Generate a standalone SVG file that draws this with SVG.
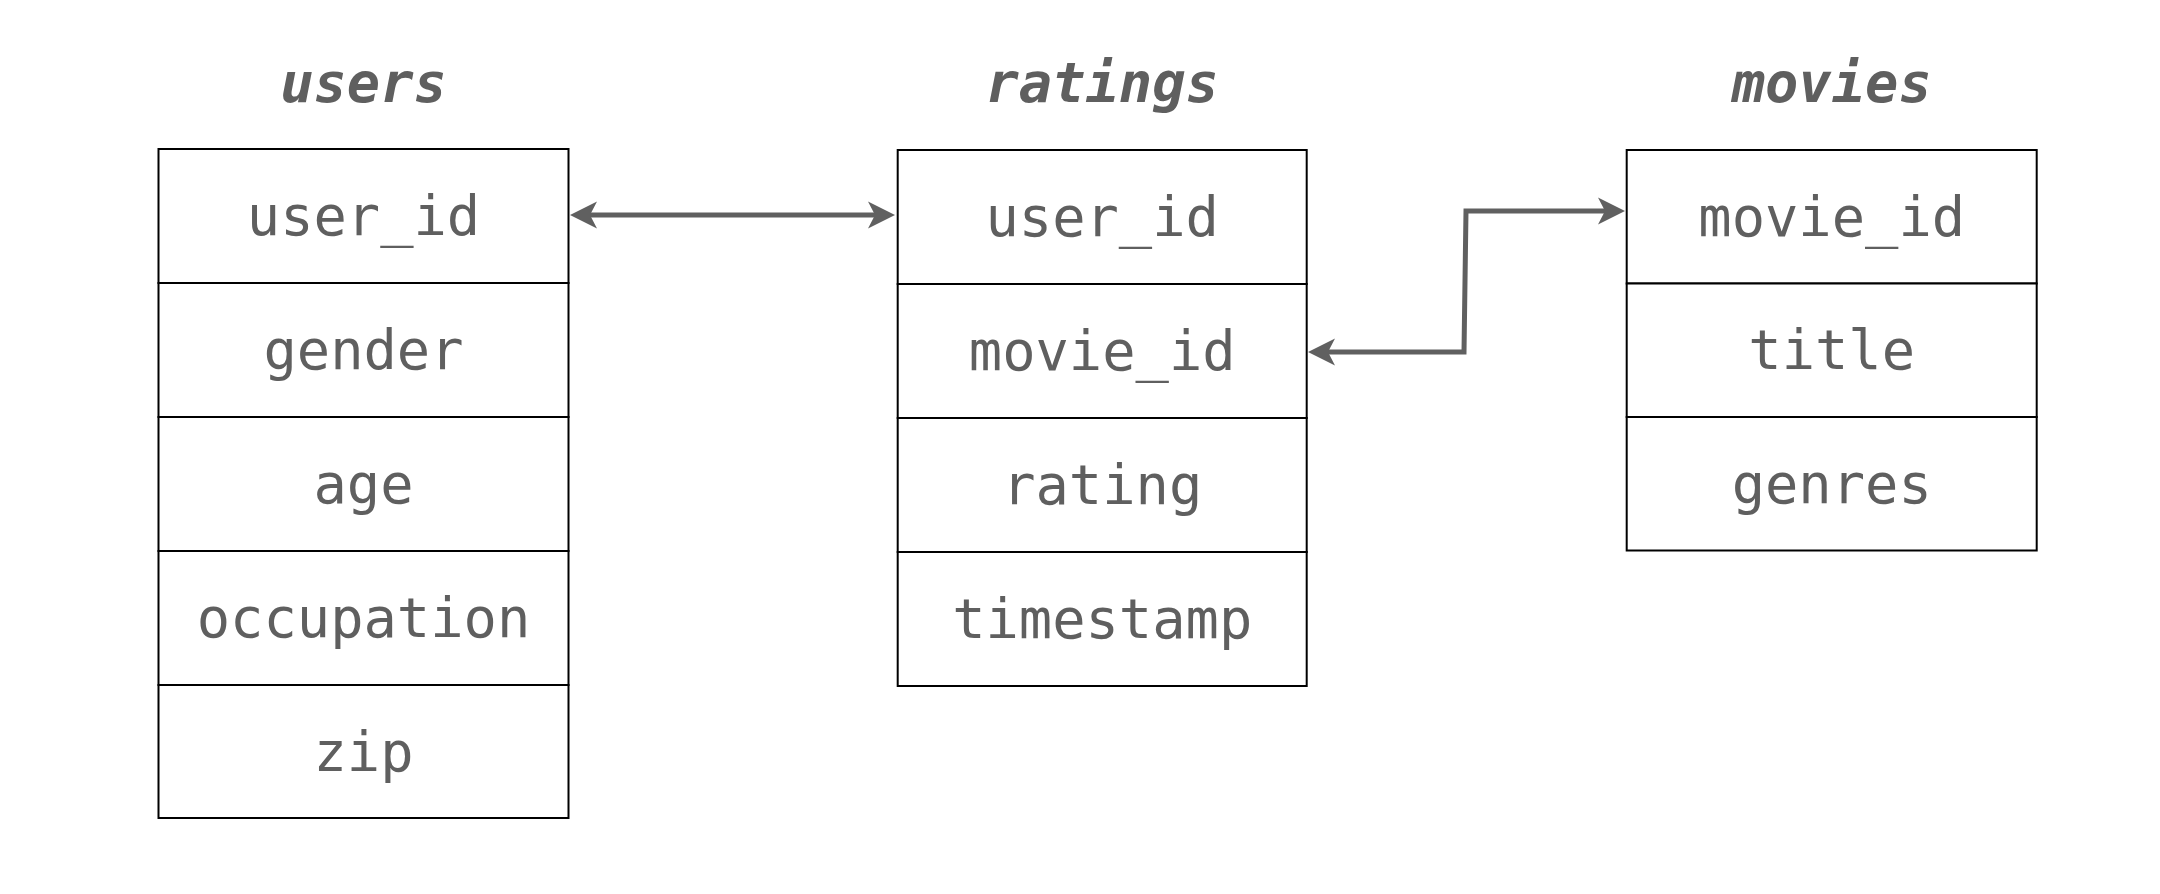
<svg xmlns="http://www.w3.org/2000/svg" width="2160" height="894" viewBox="0 0 2160 894">
<style>
.cell{fill:#ffffff;stroke:#000000;stroke-width:2}
.fld{font-family:"DejaVu Sans Mono","Liberation Mono",monospace;font-size:55.4px;fill:#5f5f5f;text-anchor:middle}
.ttl{font-family:"DejaVu Sans Mono","Liberation Mono",monospace;font-size:55.4px;font-weight:bold;font-style:italic;fill:#5f5f5f;text-anchor:middle}
.conn{fill:none;stroke:#606060;stroke-width:5;stroke-linejoin:miter}
</style>
<defs>
<marker id="arr" viewBox="0 0 28 28" markerWidth="28" markerHeight="28" markerUnits="userSpaceOnUse" refX="7" refY="14" orient="auto-start-reverse">
<path d="M0,0.5 L27,14 L0,27.5 L7,14 Z" fill="#606060"/>
</marker>
</defs>
<rect width="2160" height="894" fill="#ffffff"/>
<g id="users">
<text class="ttl" x="363.5" y="102">users</text>
<rect class="cell" x="158.5" y="149" width="410" height="134"/>
<rect class="cell" x="158.5" y="283" width="410" height="134"/>
<rect class="cell" x="158.5" y="417" width="410" height="134"/>
<rect class="cell" x="158.5" y="551" width="410" height="134"/>
<rect class="cell" x="158.5" y="685" width="410" height="133"/>
<text class="fld" x="363.5" y="235">user_id</text>
<text class="fld" x="363.5" y="369">gender</text>
<text class="fld" x="363.5" y="503">age</text>
<text class="fld" x="363.5" y="637">occupation</text>
<text class="fld" x="363.5" y="771">zip</text>
</g>
<g id="ratings">
<text class="ttl" x="1102.2" y="102">ratings</text>
<rect class="cell" x="897.7" y="150" width="409" height="134"/>
<rect class="cell" x="897.7" y="284" width="409" height="134"/>
<rect class="cell" x="897.7" y="418" width="409" height="134"/>
<rect class="cell" x="897.7" y="552" width="409" height="134"/>
<text class="fld" x="1102.2" y="236">user_id</text>
<text class="fld" x="1102.2" y="370">movie_id</text>
<text class="fld" x="1102.2" y="504">rating</text>
<text class="fld" x="1102.2" y="638">timestamp</text>
</g>
<g id="movies">
<text class="ttl" x="1831.7" y="102">movies</text>
<rect class="cell" x="1626.7" y="150" width="410" height="133.5"/>
<rect class="cell" x="1626.7" y="283.5" width="410" height="133.5"/>
<rect class="cell" x="1626.7" y="417" width="410" height="133.5"/>
<text class="fld" x="1831.7" y="236">movie_id</text>
<text class="fld" x="1831.7" y="369">title</text>
<text class="fld" x="1831.7" y="503">genres</text>
</g>
<g id="connectors">
<path class="conn" d="M590,215 L875,215" marker-start="url(#arr)" marker-end="url(#arr)"/>
<path class="conn" d="M1328,352 L1464,352 L1466,211 L1605,211" marker-start="url(#arr)" marker-end="url(#arr)"/>
</g>
</svg>
